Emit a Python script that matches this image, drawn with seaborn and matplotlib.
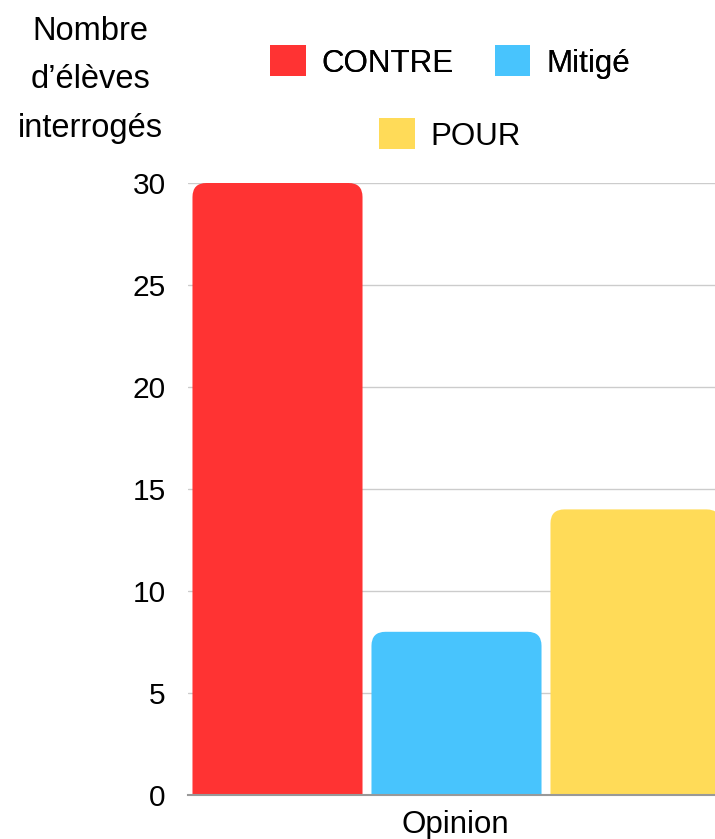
import numpy as np
import pandas as pd
import matplotlib.pyplot as plt
import seaborn as sb
from matplotlib.patches import FancyBboxPatch, Patch

categories = ['CONTRE', 'Mitigé', 'POUR']
counts = [30, 8, 14]
colors = ['#FF3333', '#48C4FD', '#FFDB58']
yticks = [0, 5, 10, 15, 20, 25, 30]

df = pd.DataFrame({'Opinion': ['Opinion'] * 3, 'Reponse': categories, 'Nombre': counts})

sb.set_style('white')
plt.rcParams['font.family'] = ['Liberation Sans', 'DejaVu Sans']
plt.rcParams['text.color'] = 'black'
plt.rcParams['ytick.color'] = 'black'

W, H = 715, 839
fig = plt.figure(figsize=(W / 100, H / 100), dpi=100)
# axes in pixel terms: left 188, width 537, baseline at 795, top (30) at 183
ax = fig.add_axes([188 / W, 1 - 795 / H, 537 / W, 612 / H])

sb.barplot(data=df, x='Opinion', y='Nombre', hue='Reponse', palette=colors,
           saturation=1, width=1.0, gap=0.05, legend=False, ax=ax)
ax.set_xlim(-0.5, 0.5)
ax.set_ylim(0, 30)

# rounded tops
r = 14 / 537
aspect = (30 / 612) / (1 / 537)
for p in list(ax.patches):
    x, y, w, h = p.get_x(), p.get_y(), p.get_width(), p.get_height()
    fc = p.get_facecolor()
    p.remove()
    box = FancyBboxPatch((x, y - 2), w, h + 2, boxstyle=f'round,pad=0,rounding_size={r}',
                         mutation_aspect=aspect, fc=fc, ec='none', zorder=2)
    ax.add_patch(box)

ax.set_yticks(yticks)
ax.set_yticklabels([str(t) for t in yticks], fontsize=21.5, color='black')
ax.set_xticks([])
ax.tick_params(axis='y', length=0, pad=16)
ax.yaxis.grid(True, color='#cccccc', lw=1, zorder=0)
ax.set_axisbelow(True)
for s in ['top', 'right', 'left']:
    ax.spines[s].set_visible(False)
ax.spines['bottom'].set_color('#999999')
ax.spines['bottom'].set_linewidth(1.5)
ax.set_xlabel('')
ax.set_ylabel('')

fig.text(455 / W, 1 - 825 / H, 'Opinion', fontsize=22.5, ha='center', va='center', color='black')
fig.text(90 / W, 1 - 80 / H, 'Nombre\nd’élèves\ninterrogés', fontsize=23.5,
         ha='center', va='center', linespacing=1.74, color='black')

handles = [Patch(fc=c, ec='none') for c in colors]
leg1 = fig.legend(handles[:2], categories[:2], loc='center', bbox_to_anchor=(450 / W, 1 - 62 / H),
                  ncol=2, frameon=False, fontsize=22.5, handlelength=1.15, handleheight=1.15,
                  handletextpad=0.5, columnspacing=1.3, borderpad=0, borderaxespad=0)
leg2 = fig.legend(handles[2:], categories[2:], loc='center', bbox_to_anchor=(450 / W, 1 - 135 / H),
                  frameon=False, fontsize=22.5, handlelength=1.15, handleheight=1.15,
                  handletextpad=0.5, borderpad=0, borderaxespad=0)
fig.add_artist(leg1)
for leg in (leg1, leg2):
    for t in leg.get_texts():
        t.set_color('black')

fig.savefig('out.png', dpi=100)
